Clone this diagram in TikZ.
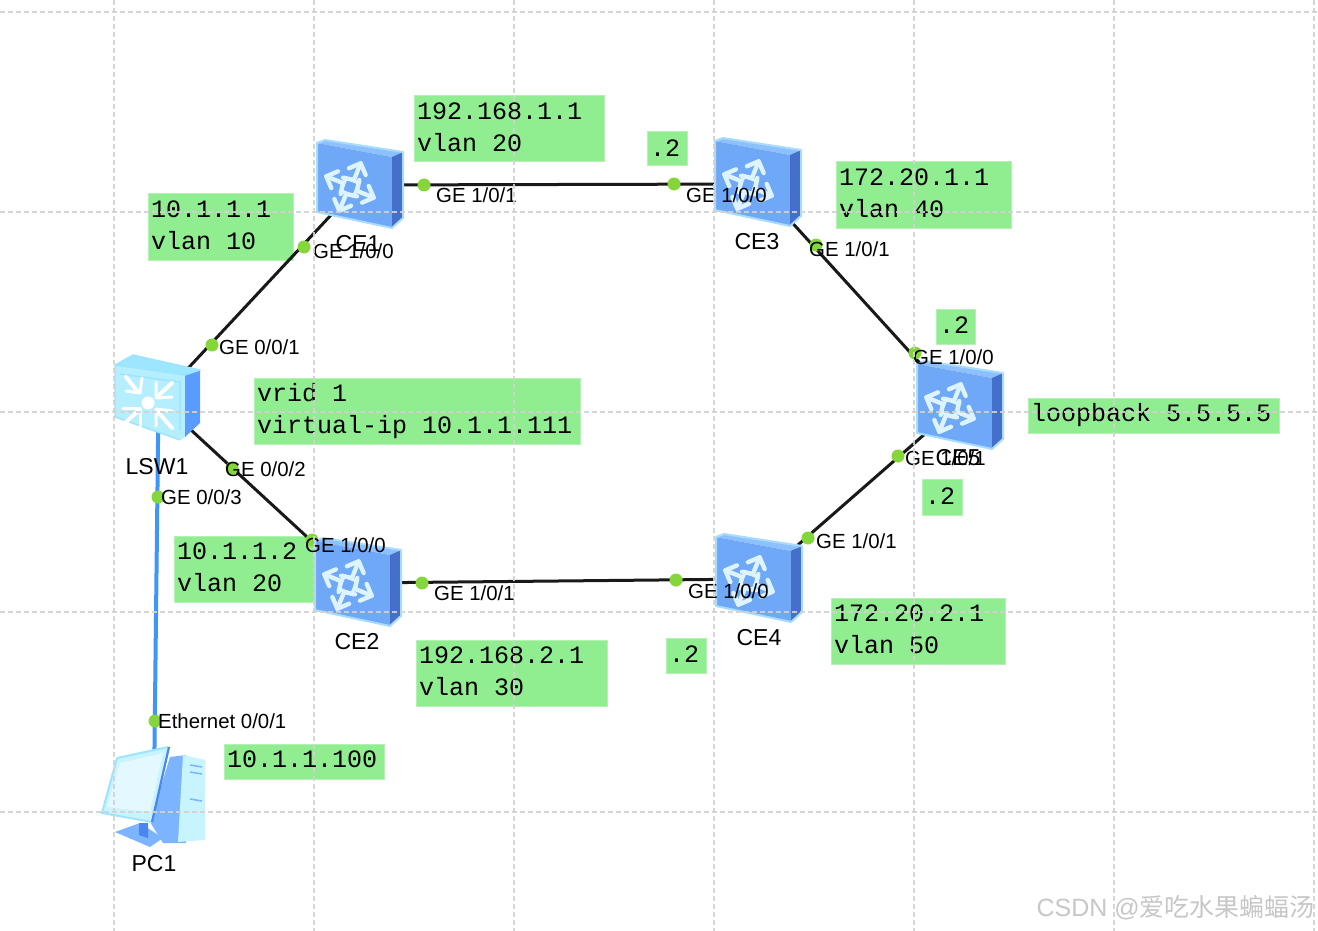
\documentclass[tikz,border=0pt]{standalone}
\usepackage{fontspec}
\setmainfont{Liberation Sans}
\setmonofont{Liberation Mono}
\newfontfamily\cjkwm{Noto Sans CJK SC}
\definecolor{gfill}{HTML}{90EE90}
\definecolor{gedge}{HTML}{B4F2B4}
\definecolor{dotc}{HTML}{84D63A}
\definecolor{linkblue}{HTML}{3F96F5}
\definecolor{gridc}{HTML}{D2D2D2}
\definecolor{rfront}{HTML}{6FA8F7}
\definecolor{rside}{HTML}{4470CC}
\definecolor{rtop}{HTML}{8CC0FF}
\definecolor{rglow}{HTML}{A8DCFF}
\definecolor{ricon}{HTML}{DDF4FF}
\definecolor{sfront}{HTML}{B4EEFF}
\definecolor{stop}{HTML}{9CE6FF}
\definecolor{sside}{HTML}{5A9BFF}
\definecolor{pcpale}{HTML}{C8F4FF}
\definecolor{pcedge}{HTML}{9FE4FF}
\definecolor{pcblue}{HTML}{7DB4FF}
\definecolor{pcdark}{HTML}{4A86F0}
\newcommand{\msp}{\kern15pt\relax}
\newcommand{\dpa}{\rule[-4pt]{0pt}{4pt}}
\newcommand{\dpb}{\rule[-2pt]{0pt}{2pt}}
\tikzset{
  x=1pt,y=-1pt,
  anchorpt/.style={inner sep=0pt,outer sep=0pt,minimum size=0pt},
  blacklink/.style={draw=black!90,line width=3pt},
  bluelink/.style={draw=linkblue,line width=4pt},
  portdot/.style={circle,fill=dotc,inner sep=0pt,minimum size=13pt},
  iflabel/.style={font=\fontsize{20.4}{22}\selectfont,inner sep=0pt,anchor=west,text=black},
  devlabel/.style={font=\fontsize{23}{25}\selectfont,inner sep=0pt,text=black},
  gbox/.style={fill=gfill,draw=gedge,line width=1pt,anchor=north west,align=left,inner xsep=3pt,inner ysep=0pt,outer sep=0pt,
    font=\ttfamily\fontsize{25}{32}\selectfont,text=black},
  gridline/.style={draw=gridc,line width=1.5pt,dash pattern=on 5pt off 3pt,opacity=.9},
  router/.pic={
    \fill[rtop] (1,3)--(9,0)--(87,12)--(76,17)--cycle;
    \fill[rfront] (1,3)--(76,17)--(76,88)--(1,72)--cycle;
    \fill[rside] (76,17)--(87,12)--(87,78)--(76,88)--cycle;
    \draw[rglow,line width=2pt,line join=round] (1,3)--(9,0)--(87,12)--(87,78)--(76,88)--(1,72)--cycle;
    \begin{scope}[shift={(34,47)},rotate=-22]
      \foreach \r in {0,90,180,270}{
        \begin{scope}[rotate=\r]
          \draw[ricon,line width=4.4pt,line cap=round,line join=round] (-10,-6)--(1,-8)--(1,-25);
          \draw[ricon,line width=4.4pt,line cap=round,line join=round] (-8,-17)--(1,-26)--(10,-17);
        \end{scope}
      }
      \draw[ricon,line width=3.4pt] (-7,-7) rectangle (7,7);
      \fill[rfront] (-3,-3) rectangle (3,3);
    \end{scope}
  },
  switchpic/.pic={
    \fill[stop] (115,365)--(133,355)--(200,370)--(185,375)--cycle;
    \fill[sfront] (115,365)--(185,375)--(185,437)--(180,440)--(115,417)--cycle;
    \fill[sside] (185,375)--(200,370)--(200,423)--(185,437)--cycle;
    \draw[pcedge,line width=1.4pt,line join=round] (115,365)--(133,355)--(200,370)--(185,375)--(115,365)--(115,417)--(180,440);
    \draw[pcedge,line width=1.5pt] (120,374) -- (180,382) -- (180,430);
    \foreach \xa/\ya/\xb/\yb in {126/377/138/392, 172/383/158/396, 124/424/138/411, 172/428/158/412}{
      \draw[white,line width=4pt,line cap=round] (\xa,\ya)--(\xb,\yb);
    }
    \draw[white,line width=3pt,line cap=round,line join=round] (126,391)--(140,393)--(142,378);
    \draw[white,line width=3pt,line cap=round,line join=round] (156,382)--(156,398)--(172,397);
    \draw[white,line width=3pt,line cap=round,line join=round] (123,408)--(140,408)--(140,426);
    \draw[white,line width=3pt,line cap=round,line join=round] (172,411)--(156,409)--(156,426);
    \fill[white] (148,403) circle (6.5pt);
  },
  pcpic/.pic={
    \fill[pcblue] (170,757)--(186,755)--(186,843)--(163,843)--(150,822)--cycle;
    \fill[pcpale] (183,755)--(205,760)--(205,840)--(178,842)--cycle;
    \draw[pcblue,line width=1.5pt] (190,765)--(202,767) (190,772)--(202,774) (190,799)--(202,801);
    \fill[pcblue] (115,832)--(140,823)--(163,838)--(150,847)--cycle;
    \fill[pcdark] (139,823)--(148,823)--(148,838)--(139,835)--cycle;
    \fill[pcpale] (117,758)--(168,747)--(152,822)--(102,813)--cycle;
    \fill[white!50!pcpale] (120,763)--(163,753)--(150,812)--(107,807)--cycle;
    \draw[pcedge,line width=2pt] (117,758)--(168,747) (117,758)--(102,813)--(152,822);
    \draw[pcdark,line width=2.2pt] (169,747)--(152,822);
  }
}
\newcommand{\gb}[7]{\node[gbox,minimum height=#5pt,text width=#6pt] (#1) at (#2,#3) {#7};}
\begin{document}
\begin{tikzpicture}
\useasboundingbox (0,0) rectangle (1318,931);
\fill[white] (0,0) rectangle (1318,931);
% green boxes
\gb{b1}{148}{194}{145}{66}{139}{10.1.1.1\\vlan\msp 10\dpa}
\gb{b2}{414}{96}{190}{66}{184}{192.168.1.1\\vlan\msp 20\dpa}
\gb{b3}{647}{132}{40}{34}{34}{.2\dpb}
\gb{b4}{836}{162}{175}{66}{169}{172.20.1.1\\vlan\msp 40\dpa}
\gb{b5}{936}{309}{39}{35}{33}{.2\dpb}
\gb{b6}{1028}{398}{251}{35}{245}{loopback\msp 5.5.5.5}
\gb{b7}{922}{479}{40}{36}{34}{.2\dpb}
\gb{b8}{254}{378}{326}{66}{320}{vrid\msp 1\\virtual-ip\msp 10.1.1.111}
\gb{b9}{174}{536}{140}{66}{134}{10.1.1.2\\vlan\msp 20\dpa}
\gb{b10}{416}{640}{191}{66}{185}{192.168.2.1\\vlan\msp 30\dpa}
\gb{b11}{666}{638}{40}{35}{34}{.2\dpb}
\gb{b12}{831}{598}{174}{66}{168}{172.20.2.1\\vlan\msp 50\dpa}
\gb{b13}{224}{744}{160}{35}{154}{10.1.1.100\dpa}
% device anchors
\node[anchorpt] (ce1) at (359,185) {};
\node[anchorpt] (ce2) at (357,583) {};
\node[anchorpt] (ce3) at (757,184) {};
\node[anchorpt] (ce4) at (759,579) {};
\node[anchorpt] (ce5) at (958,405) {};
\node[anchorpt] (lsw) at (158.5,400) {};
\node[anchorpt] (pc) at (154,790) {};
% links
\draw[blacklink] (ce1)--(lsw);
\draw[blacklink] (ce2)--(lsw);
\draw[blacklink] (ce1)--(ce3);
\draw[blacklink] (ce2)--(ce4);
\draw[blacklink] (ce3)--(ce5);
\draw[blacklink] (ce4)--(ce5);
\draw[bluelink] (lsw)--(pc);
% port dots
\foreach \n/\x/\y in {d1/424/185,d2/674/184,d3/304/247,d4/816/245,d5/212/345,d6/915/353,d7/232/468,d8/158/497,d9/312/540,d10/422/583,d11/676/580,d12/808/538,d13/898/456,d14/155/721}
  \node[portdot] (\n) at (\x,\y) {};
% devices
\pic at (316,140) {router};
\pic at (314,538) {router};
\pic at (714,138) {router};
\pic at (715,534) {router};
\pic at (916,361) {router};
\pic at (0,0) {switchpic};
\pic at (0,0) {pcpic};
% interface labels
\node[iflabel] (i1) at (436,195) {GE 1/0/1};
\node[iflabel] (i2) at (686,195) {GE 1/0/0};
\node[iflabel] (i3) at (313,251) {GE 1/0/0};
\node[iflabel] (i4) at (809,249) {GE 1/0/1};
\node[iflabel] (i5) at (219,347) {GE 0/0/1};
\node[iflabel] (i6) at (913,357) {GE 1/0/0};
\node[iflabel] (i7) at (225,469) {GE 0/0/2};
\node[iflabel] (i8) at (161,497) {GE 0/0/3};
\node[iflabel] (i9) at (305,545) {GE 1/0/0};
\node[iflabel] (i10) at (434,593) {GE 1/0/1};
\node[iflabel] (i11) at (688,591) {GE 1/0/0};
\node[iflabel] (i12) at (816,541) {GE 1/0/1};
\node[iflabel] (i13) at (905,458) {GE 1/0/1};
\node[iflabel] (i14) at (158,721) {Ethernet 0/0/1};
% device labels
\node[devlabel] (l1) at (358,244) {CE1};
\node[devlabel] (l2) at (357,642) {CE2};
\node[devlabel] (l3) at (757,242) {CE3};
\node[devlabel] (l4) at (759,638) {CE4};
\node[devlabel] (l5) at (958,458) {CE5};
\node[devlabel] (l6) at (157,467) {LSW1};
\node[devlabel] (l7) at (154,864) {PC1};
% grid over everything
\foreach \x in {114,314,514,714,914,1114,1314}
  \draw[gridline] (\x,0)--(\x,931);
\foreach \y in {12,212,412,612,812}
  \draw[gridline] (0,\y)--(1318,\y);
% watermark
\node[anchor=east,inner sep=0pt,text=black!22,font=\fontsize{25}{28}\selectfont] (wm) at (1315,908) {CSDN @{\cjkwm 爱吃水果蝙蝠汤}};
\end{tikzpicture}
\end{document}
